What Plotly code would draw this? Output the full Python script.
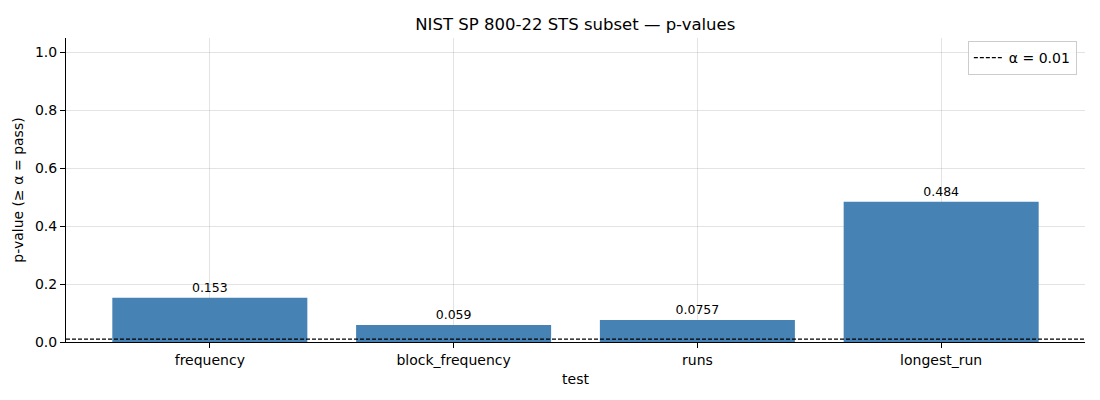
import plotly.graph_objects as go

tests = ["frequency", "block_frequency", "runs", "longest_run"]
p_values = [0.153, 0.059, 0.0757, 0.484]
alpha = 0.01
labels = ["0.153", "0.059", "0.0757", "0.484"]

FONT = "DejaVu Sans"
grid_col = "rgba(176,176,176,0.35)"
DASH = "4px,2px"

fig = go.Figure()
fig.add_trace(go.Bar(
    x=tests, y=p_values, width=0.8,
    marker=dict(color="#4682b4", line=dict(width=0)),
    text=labels, textposition="outside", cliponaxis=False,
    textfont=dict(family=FONT, size=12.5, color="black"),
    showlegend=False,
))
fig.add_hline(y=alpha, line=dict(color="black", width=1.2, dash=DASH))
fig.add_trace(go.Scatter(
    x=[None], y=[None], mode="lines", name="α = 0.01",
    line=dict(color="black", width=1.2, dash=DASH),
))

fig.update_layout(
    width=1100, height=400,
    margin=dict(l=66, r=15, t=38, b=58),
    paper_bgcolor="white", plot_bgcolor="white",
    font=dict(family=FONT, size=14, color="black"),
    title=dict(text="NIST SP 800-22 STS subset — p-values", x=0.523, xanchor="center",
               y=0.94, yanchor="middle", yref="container",
               font=dict(family=FONT, size=16.5, color="black")),
    legend=dict(x=0.992, y=0.99, xanchor="right", yanchor="top",
                bordercolor="#cccccc", borderwidth=1, bgcolor="rgba(255,255,255,0.8)",
                font=dict(family=FONT, size=14), tracegroupgap=0,
                itemwidth=30),
    bargap=0.2,
)
fig.update_xaxes(
    range=[-0.59, 3.59], showline=True, linecolor="black", linewidth=1,
    ticks="outside", ticklen=5, tickcolor="black",
    showgrid=True, gridcolor=grid_col, gridwidth=1,
    title=dict(text="test", font=dict(family=FONT, size=14), standoff=7),
    layer="above traces", zeroline=False,
)
fig.update_yaxes(
    range=[0, 1.05], tickvals=[0, 0.2, 0.4, 0.6, 0.8, 1.0], tickformat=".1f",
    showline=True, linecolor="black", linewidth=1,
    ticks="outside", ticklen=5, tickcolor="black",
    showgrid=True, gridcolor=grid_col, gridwidth=1,
    title=dict(text="p-value (≥ α = pass)", font=dict(family=FONT, size=14), standoff=8),
    layer="above traces", zeroline=False,
)

fig.write_html("out.html", config={"displayModeBar": False},
               post_script="document.body.style.margin='0';")
